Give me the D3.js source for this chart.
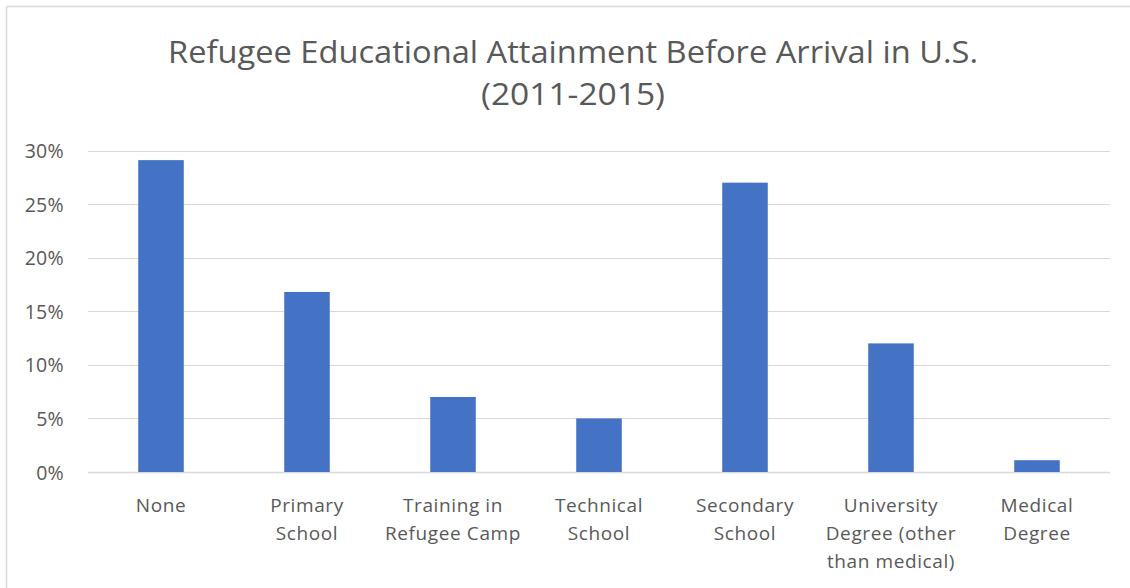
<!DOCTYPE html>
<html>
<head>
<meta charset="utf-8">
<script src="https://cdn.jsdelivr.net/npm/d3@7"></script>
<style>
  html, body { margin: 0; padding: 0; background: #fff; }
  svg { display: block; }
</style>
</head>
<body>
<svg id="chart" width="1130" height="588"></svg>
<script>
const categories = [
  ["None"],
  ["Primary", "School"],
  ["Training in", "Refugee Camp"],
  ["Technical", "School"],
  ["Secondary", "School"],
  ["University", "Degree (other", "than medical)"],
  ["Medical", "Degree"]
];
const values = [0.291, 0.168, 0.070, 0.050, 0.270, 0.120, 0.011];
const yTicks = [0, 0.05, 0.10, 0.15, 0.20, 0.25, 0.30];
const titleLines = ["Refugee Educational Attainment Before Arrival in U.S.", "(2011-2015)"];

const svg = d3.select("#chart");
const W = 1130, H = 588;
const plot = { left: 88, right: 1110, top: 150.5, bottom: 472 };
const textColor = "#595959";
const fontFam = "'Open Sans', 'Noto Sans', sans-serif";

svg.append("rect").attr("width", W).attr("height", H).attr("fill", "#fff");

// outer border (top & left visible)
svg.append("line").attr("x1", 6.5).attr("x2", W).attr("y1", 6.5).attr("y2", 6.5)
  .attr("stroke", "#d9d9d9").attr("stroke-width", 1.5);
svg.append("line").attr("x1", 6.5).attr("x2", 6.5).attr("y1", 6.5).attr("y2", H)
  .attr("stroke", "#d9d9d9").attr("stroke-width", 1.5);

const keys = categories.map((c, i) => "c" + i);
const x = d3.scaleBand().domain(keys).range([plot.left, plot.right]).paddingInner(0.688).paddingOuter(0.344);
const y = d3.scaleLinear().domain([0, 0.30]).range([plot.bottom, plot.top]);

// gridlines
svg.append("g").selectAll("line").data(yTicks).join("line")
  .attr("x1", plot.left).attr("x2", plot.right)
  .attr("y1", d => Math.round(y(d)) + 0.5).attr("y2", d => Math.round(y(d)) + 0.5)
  .attr("stroke", "#d9d9d9").attr("stroke-width", d => d === 0 ? 1.5 : 1.2);

// y axis labels
const yAxis = d3.axisLeft(y).tickValues(yTicks).tickFormat(d3.format(".0%")).tickSize(0).tickPadding(0);
const gy = svg.append("g").attr("transform", `translate(64,0)`).call(yAxis);
gy.select(".domain").remove();
gy.selectAll("text").attr("fill", textColor).style("font-family", fontFam).style("font-size", "19.5px")
  .style("letter-spacing", "0.3px").attr("dy", "0.36em");

// bars
svg.append("g").selectAll("rect").data(values).join("rect")
  .attr("x", (d, i) => x(keys[i]))
  .attr("width", x.bandwidth())
  .attr("y", d => y(d))
  .attr("height", d => y(0) - y(d))
  .attr("fill", "#4472C4");

// x category labels
const xl = svg.append("g");
categories.forEach((lines, i) => {
  const cx = x(keys[i]) + x.bandwidth() / 2;
  const t = xl.append("text").attr("text-anchor", "middle").attr("fill", textColor)
    .style("font-family", fontFam).style("font-size", "19px").style("letter-spacing", "0.6px");
  lines.forEach((ln, j) => {
    t.append("tspan").attr("x", cx).attr("y", 512 + j * 28).text(ln);
  });
});

// title
const tg = svg.append("g");
const titleWidths = [810, 184];
titleLines.forEach((ln, i) => {
  tg.append("text").attr("x", 573).attr("y", 63 + i * 42).attr("text-anchor", "middle")
    .attr("fill", textColor).style("font-family", fontFam).style("font-size", "31px")
    .attr("textLength", titleWidths[i]).attr("lengthAdjust", "spacingAndGlyphs")
    .text(ln);
});
</script>
</body>
</html>
